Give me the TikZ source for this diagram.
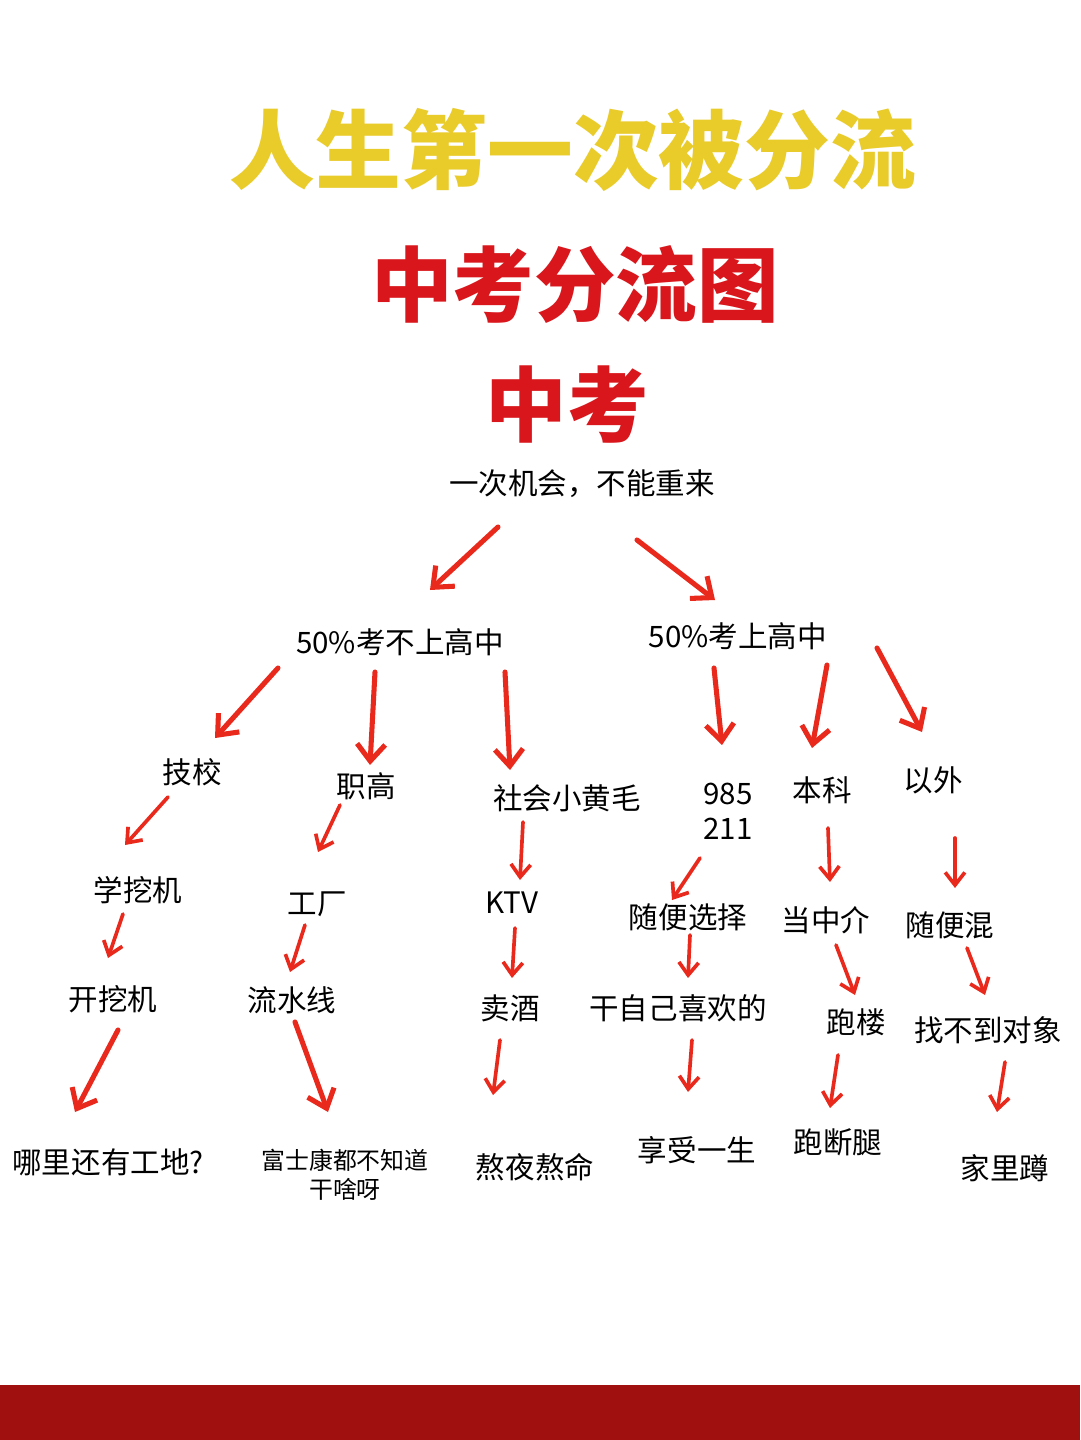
\documentclass[tikz,border=0pt]{standalone}
\usepackage{fontspec}
\setmainfont{Noto Sans CJK SC}
\usetikzlibrary{arrows.meta}
\definecolor{ttlyel}{HTML}{E9CB2A}
\definecolor{ttlred}{HTML}{D8161B}
\definecolor{arr}{HTML}{E8291C}
\definecolor{bar}{HTML}{A0100F}
\begin{document}
\begin{tikzpicture}[x=0.25mm,y=-0.25mm,
  lbl/.style={font=\fontsize{21}{23}\selectfont, inner sep=1pt},
  sm/.style={font=\fontsize{17}{21}\selectfont, inner sep=1pt, align=center},
  ar/.style={draw=arr, line width=2.6pt, line cap=round, -{Straight Barb[length=9pt,width=14pt,line width=2.6pt]}},
  big/.style={ar, line width=3.6pt, -{Straight Barb[length=12pt,width=20pt,line width=3.6pt]}}]
\useasboundingbox (0,0) rectangle (1080,1440);
\fill[white] (0,0) rectangle (1080,1440);
\fill[bar] (0,1385) rectangle (1080,1440);
\node[font=\fontsize{61}{63}\selectfont\bfseries, text=ttlyel] (t1) at (573,150) {人生第一次被分流};
\node[font=\fontsize{58}{60}\selectfont\bfseries, text=ttlred] (t2) at (575,285) {中考分流图};
\node[font=\fontsize{58}{60}\selectfont\bfseries, text=ttlred] (t3) at (567,405) {中考};
\node[lbl] (n0) at (582,484) {一次机会，不能重来};
\node[lbl] (L) at (400,642) {50\%考不上高中};
\node[lbl] (R) at (738,636) {50\%考上高中};
\node[lbl] (a2) at (192,772) {技校};
\node[lbl] (b2) at (366,786) {职高};
\node[lbl] (c2) at (567,798) {社会小黄毛};
\node[lbl, align=center] (d2) at (728,811) {985\\[2pt]211};
\node[lbl] (e2) at (822,790) {本科};
\node[lbl] (f2) at (933,780) {以外};
\node[lbl] (a3) at (138,890) {学挖机};
\node[lbl] (b3) at (317,904) {工厂};
\node[lbl] (c3) at (512,903) {KTV};
\node[lbl] (d3) at (688,917) {随便选择};
\node[lbl] (e3) at (826,920) {当中介};
\node[lbl] (f3) at (950,925) {随便混};
\node[lbl] (a4) at (113,999) {开挖机};
\node[lbl] (b4) at (292,1000) {流水线};
\node[lbl] (c4) at (510,1008) {卖酒};
\node[lbl] (d4) at (678,1008) {干自己喜欢的};
\node[lbl] (e4) at (856,1022) {跑楼};
\node[lbl] (f4) at (988,1030) {找不到对象};
\node[lbl] (a5) at (108,1162) {哪里还有工地?};
\node[sm] (b5) at (345,1175) {富士康都不知道\\干啥呀};
\node[lbl] (c5) at (535,1167) {熬夜熬命};
\node[lbl] (d5) at (697,1150) {享受一生};
\node[lbl] (e5) at (838,1142) {跑断腿};
\node[lbl] (f5) at (1005,1168) {家里蹲};
\foreach \n/\x/\y/\u/\v/\s in {
 p1/498/527/430/590/big, p2/637/540/715/600/big,
 p3/278/668/215/738/big, p4/375/672/370/765/big, p5/505/672/510/770/big,
 p6/714/668/722/745/big, p7/827/665/812/748/big, p8/877/648/922/732/big,
 p9/168/797/125/845/ar, p10/340/805/318/852/ar, p11/523/822/520/880/ar,
 p12/700/858/672/900/ar, p13/828/828/830/882/ar, p14/955/838/955/888/ar,
 p15/123/914/108/958/ar, p16/305/925/290/972/ar, p17/515/928/512/978/ar,
 p18/690/935/688/978/ar, p19/836/945/855/995/ar, p20/967/948/985/995/ar,
 p21/118/1030/75/1112/big, p22/295/1022/328/1112/big, p23/500/1040/493/1095/ar,
 p24/692/1040/688/1092/ar, p25/838/1055/830/1108/ar, p26/1005/1062/997/1112/ar}{
 \coordinate (\n s) at (\x,\y); \coordinate (\n e) at (\u,\v);
 \draw[\s] (\n s) -- (\n e);
}
\end{tikzpicture}
\end{document}
